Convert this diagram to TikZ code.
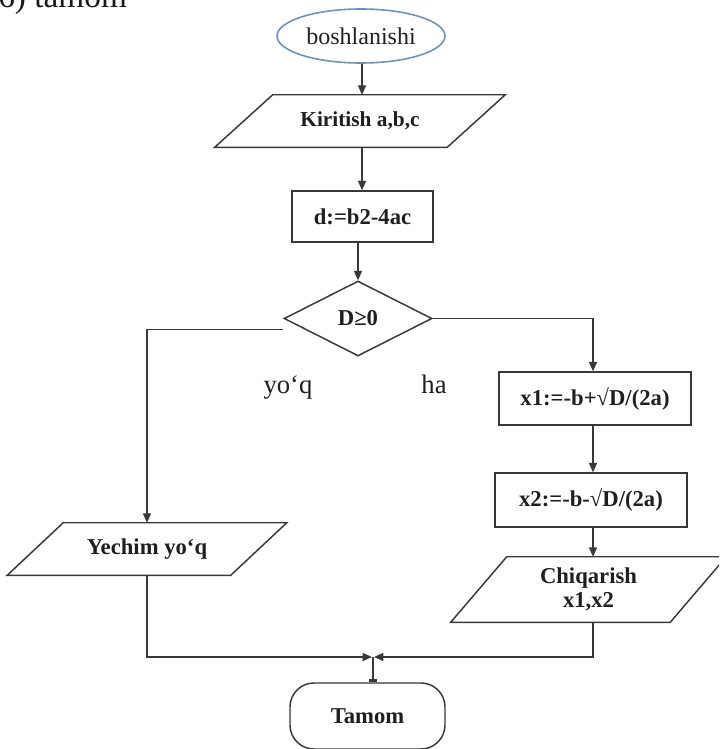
\documentclass[tikz,border=0pt]{standalone}
\usepackage{fontspec}
\setmainfont{Liberation Serif}
\usetikzlibrary{arrows.meta,shapes.geometric,calc}
\tikzset{
  ln/.style={draw=black!78, line width=1.1pt},
  arr/.style={ln, -{Triangle[width=6pt,length=7pt]}},
  btxt/.style={font=\fontsize{17}{19}\selectfont\bfseries, text=black!88},
  procbox/.style={ln, btxt, inner sep=0pt, minimum width=#1},
  parabody/.style={draw=none, btxt, inner sep=0pt, align=center, minimum width=#1},
}
\newcommand\paradraw[2]{\draw[ln] ([xshift=#2]#1.north west) -- ([xshift=#2]#1.north east) -- ([xshift=-#2]#1.south east) -- ([xshift=-#2]#1.south west) -- cycle;}
\begin{document}
\begin{tikzpicture}[x=0.75pt,y=-0.75pt]
\useasboundingbox (0,0) rectangle (719,749);
\clip (0,0) rectangle (719,749);

% heading fragment
\node[anchor=base west, inner sep=0pt, font=\fontsize{25}{28}\selectfont, text=black!90] (head) at (-2,8) {6) tamom};

% column helpers
\coordinate (colA) at (362,0);
\coordinate (colB) at (593,0);

% start
\node[ellipse, draw={rgb,255:red,112;green,146;blue,180}, line width=1.2pt, minimum width=126pt, minimum height=40.5pt, inner sep=0pt, font=\fontsize{18}{20}\selectfont, text=black!88] (st) at (361,36) {boshlanishi};

% input
\node[parabody=174pt, minimum height=39pt, font=\fontsize{16}{18}\selectfont\bfseries] (kir) at (360,121) {Kiritish a,b,c};
\paradraw{kir}{21.75pt}

% d box
\node[procbox=105.75pt, minimum height=38.25pt] (dbox) at (362.5,216.5) {d:=b2-4ac};

% decision
\node[diamond, ln, btxt, inner sep=0pt, minimum width=111pt, minimum height=56.25pt] (dia) at (358,318.5) {D≥0};

% right branch
\node[procbox=144pt, minimum height=39.75pt] (xone) at (595,398.5) {x1:=-b+√D/(2a)};
\node[procbox=144pt, minimum height=40.5pt] (xtwo) at (591,500) {x2:=-b-√D/(2a)};
\node[parabody=164.25pt, minimum height=48.75pt] (chq) at (588.5,589.5) {Chiqarish\\[-1pt]x1,x2};
\paradraw{chq}{21pt}

% left branch
\node[parabody=167.25pt, minimum height=39pt] (yech) at (147,549) {Yechim yo‘q};
\paradraw{yech}{21pt}

% end
\node[ln, btxt, rounded corners=18pt, minimum width=116.25pt, minimum height=49.5pt, inner sep=0pt] (tam) at (367.5,716) {Tamom};

% labels
\node[anchor=base, inner sep=0pt, font=\fontsize{20}{22}\selectfont, text=black!88] (lno) at (288,393) {yo‘q};
\node[anchor=base, inner sep=0pt, font=\fontsize{20}{22}\selectfont, text=black!88] (lyes) at (434,393) {ha};

% merge point
\coordinate (m) at (373,657);

% connectors
\draw[arr] (st.south -| colA) -- (kir.north -| colA);
\draw[arr] (kir.south -| colA) -- (dbox.north -| colA);
\draw[arr] (dbox.south -| dia.north) -- (dia.north);
\draw[arr] (dia.east) -| (xone.north -| colB);
\draw[arr] (xone.south -| colB) -- (xtwo.north -| colB);
\draw[arr] (xtwo.south -| colB) -- (chq.north -| colB);
\draw[arr] ([yshift=-8.25pt]dia.west) -| (yech.north);
\draw[ln, -{Triangle[width=6pt,length=7pt]}] (yech.south) |- ([xshift=-0.75pt]m);
\draw[ln, -{Triangle[width=6pt,length=7pt]}] (chq.south -| colB) |- ([xshift=0.75pt]m);
\draw[ln, -{Rectangle[length=2.5pt,width=6pt]}] (m) -- (m |- tam.north);
\end{tikzpicture}
\end{document}
